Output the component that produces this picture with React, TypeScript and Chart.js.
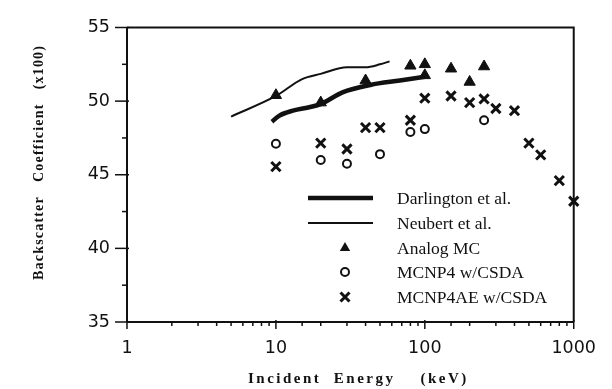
import { useEffect, useRef } from 'react';
import { Chart, registerables } from 'chart.js';

Chart.register(...registerables);

// ---- data ----
const darlingtonX = [9.4, 10.5, 13, 17, 20, 28, 43, 68, 100];
const darlingtonY = [48.6, 49.0, 49.35, 49.6, 49.8, 50.6, 51.1, 51.4, 51.65];

const neubertX = [5, 10, 15, 20, 30, 40, 50, 58];
const neubertY = [48.95, 50.35, 51.5, 51.85, 52.3, 52.3, 52.5, 52.7];

const analogX = [10, 20, 40, 80, 100, 100, 150, 200, 250];
const analogY = [50.4, 49.9, 51.4, 52.4, 52.5, 51.75, 52.2, 51.3, 52.35];

const mcnp4X = [10, 20, 30, 50, 80, 100, 250];
const mcnp4Y = [47.1, 46.0, 45.75, 46.4, 47.9, 48.1, 48.7];

const mcnp4aeX = [10, 20, 30, 40, 50, 80, 100, 150, 200, 250, 300, 400, 500, 600, 800, 1000];
const mcnp4aeY = [45.55, 47.15, 46.75, 48.2, 48.2, 48.7, 50.2, 50.35, 49.9, 50.15, 49.5, 49.35, 47.15, 46.35, 44.6, 43.2];

const xMajorTicks = [1, 10, 100, 1000];
const yMajorTicks = [35, 40, 45, 50, 55];

const legendLabels = ['Darlington et al.', 'Neubert et al.', 'Analog MC', 'MCNP4 w/CSDA', 'MCNP4AE w/CSDA'];
const xTitle = 'Incident  Energy    (keV)';
const yTitle = 'Backscatter   Coefficient   (x100)';

const zip = (xs: number[], ys: number[]) => xs.map((x, i) => ({ x, y: ys[i] }));

const INK = '#111';

function drawMarker(ctx: CanvasRenderingContext2D, kind: string, x: number, y: number) {
  ctx.save();
  ctx.strokeStyle = INK;
  ctx.fillStyle = INK;
  if (kind === 'triangle') {
    const r = 6;
    ctx.beginPath();
    ctx.moveTo(x, y - r);
    ctx.lineTo(x + r * 0.866, y + r * 0.5);
    ctx.lineTo(x - r * 0.866, y + r * 0.5);
    ctx.closePath();
    ctx.fill();
  } else if (kind === 'circle') {
    ctx.lineWidth = 2;
    ctx.beginPath();
    ctx.arc(x, y, 4, 0, Math.PI * 2);
    ctx.stroke();
  } else if (kind === 'cross') {
    ctx.lineWidth = 3;
    const r = 4.5;
    ctx.beginPath();
    ctx.moveTo(x - r, y - r);
    ctx.lineTo(x + r, y + r);
    ctx.moveTo(x + r, y - r);
    ctx.lineTo(x - r, y + r);
    ctx.stroke();
  }
  ctx.restore();
}

const decorPlugin = {
  id: 'decor',
  afterDraw(chart: any) {
    const ctx: CanvasRenderingContext2D = chart.ctx;
    const { left, right, top, bottom } = chart.chartArea;
    const xs = chart.scales.x;
    const ys = chart.scales.y;
    ctx.save();
    ctx.strokeStyle = INK;
    ctx.fillStyle = INK;

    // frame top + right
    ctx.lineWidth = 2;
    ctx.beginPath();
    ctx.moveTo(left, top);
    ctx.lineTo(right, top);
    ctx.lineTo(right, bottom);
    ctx.stroke();

    // x ticks
    ctx.lineWidth = 1.5;
    xs.ticks.forEach((t: any) => {
      const px = xs.getPixelForValue(t.value);
      const major = xMajorTicks.includes(t.value);
      ctx.beginPath();
      ctx.moveTo(px, bottom - (major ? 2 : 0));
      ctx.lineTo(px, bottom + (major ? 7 : 4));
      ctx.stroke();
    });
    // y ticks
    ys.ticks.forEach((t: any) => {
      const py = ys.getPixelForValue(t.value);
      const major = yMajorTicks.includes(t.value);
      ctx.beginPath();
      ctx.moveTo(left - (major ? 12 : 5), py);
      ctx.lineTo(left + (major ? 2 : 0), py);
      ctx.stroke();
    });

    // legend
    const rowY = [198, 223, 248, 272, 297];
    const lx0 = 308, lx1 = 373, mx = 345, tx = 397;
    ctx.lineCap = 'butt';
    ctx.lineWidth = 4.5;
    ctx.beginPath(); ctx.moveTo(lx0, rowY[0]); ctx.lineTo(lx1, rowY[0]); ctx.stroke();
    ctx.lineWidth = 2;
    ctx.beginPath(); ctx.moveTo(lx0, rowY[1]); ctx.lineTo(lx1, rowY[1]); ctx.stroke();
    drawMarker(ctx, 'triangle', mx, rowY[2]);
    drawMarker(ctx, 'circle', mx, rowY[3]);
    drawMarker(ctx, 'cross', mx, rowY[4]);
    ctx.font = '17.5px "Liberation Serif"';
    ctx.textAlign = 'left';
    ctx.textBaseline = 'middle';
    legendLabels.forEach((s, i) => ctx.fillText(s, tx, rowY[i] + 1));

    // axis titles
    (ctx as any).letterSpacing = '2.5px';
    ctx.font = 'bold 15px "Liberation Serif"';
    ctx.textBaseline = 'alphabetic';
    ctx.fillText(xTitle, 248, 383);

    (ctx as any).letterSpacing = '1.2px';
    ctx.font = 'bold 14px "Liberation Serif"';
    ctx.translate(43, 280);
    ctx.rotate(-Math.PI / 2);
    ctx.fillText(yTitle, 0, 0);
    (ctx as any).letterSpacing = '0px';
    ctx.restore();
  },
};

export default function App() {
  const ref = useRef<HTMLCanvasElement>(null);
  useEffect(() => {
    const canvas = ref.current!;
    const chart = new Chart(canvas, {
      type: 'scatter',
      data: {
        datasets: [
          {
            label: legendLabels[0],
            data: zip(darlingtonX, darlingtonY),
            showLine: true,
            borderColor: INK,
            borderWidth: 4.5,
            pointRadius: 0,
            cubicInterpolationMode: 'monotone',
          },
          {
            label: legendLabels[1],
            data: zip(neubertX, neubertY),
            showLine: true,
            borderColor: INK,
            borderWidth: 2,
            pointRadius: 0,
            cubicInterpolationMode: 'monotone',
          },
          {
            label: legendLabels[2],
            data: zip(analogX, analogY),
            pointStyle: 'triangle',
            pointRadius: 6.5,
            backgroundColor: INK,
            borderColor: INK,
            borderWidth: 1,
          },
          {
            label: legendLabels[3],
            data: zip(mcnp4X, mcnp4Y),
            pointStyle: 'circle',
            pointRadius: 4,
            backgroundColor: 'rgba(0,0,0,0)',
            borderColor: INK,
            borderWidth: 2,
          },
          {
            label: legendLabels[4],
            data: zip(mcnp4aeX, mcnp4aeY),
            pointStyle: 'crossRot',
            pointRadius: 6.5,
            borderColor: INK,
            borderWidth: 3,
          },
        ],
      } as any,
      options: {
        responsive: false,
        maintainAspectRatio: false,
        animation: false,
        devicePixelRatio: 1,
        layout: { padding: { left: 0, top: 12, right: 38, bottom: 0 } },
        plugins: { legend: { display: false }, tooltip: { enabled: false } },
        elements: { point: { hoverRadius: 0 } },
        datasets: { scatter: { clip: false } } as any,
        scales: {
          x: {
            type: 'logarithmic',
            min: 1,
            max: 1000,
            afterFit: (s: any) => { s.height = 67; },
            border: { display: true, color: INK, width: 2 },
            grid: { display: true, drawOnChartArea: false, drawTicks: false },
            ticks: {
              autoSkip: false,
              maxRotation: 0,
              padding: 16,
              color: INK,
              font: { family: 'DejaVu Sans', size: 17.5 },
              callback: (v: any) => (xMajorTicks.includes(Number(v)) ? String(v) : ''),
            },
          },
          y: {
            min: 35,
            max: 55,
            afterFit: (s: any) => { s.width = 127; },
            border: { display: true, color: INK, width: 2 },
            grid: { display: true, drawOnChartArea: false, drawTicks: false },
            ticks: {
              stepSize: 2.5,
              autoSkip: false,
              padding: 17,
              color: INK,
              font: { family: 'DejaVu Sans', size: 17.5 },
              callback: (v: any) => (yMajorTicks.includes(Number(v)) ? String(v) : ''),
            },
          },
        },
      } as any,
      plugins: [decorPlugin],
    });
    return () => chart.destroy();
  }, []);
  return (
    <div style={{ position: 'absolute', left: 0, top: 0, width: 612, height: 389, background: '#fff' }}>
      <canvas ref={ref} width={612} height={389} style={{ display: 'block' }} />
    </div>
  );
}
